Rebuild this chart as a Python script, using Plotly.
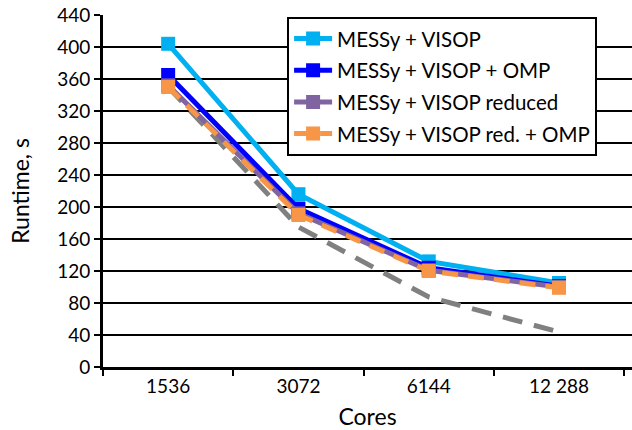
import plotly.graph_objects as go

cores = ["1536", "3072", "6144", "12 288"]
visop = [404, 216, 132, 105]
visop_omp = [365, 198, 124, 101]
visop_reduced = [352, 192, 121, 100]
visop_red_omp = [350, 190, 120, 99]
ideal = [350, 175, 87.5, 43.75]

FONT = "Lato"

fig = go.Figure()

# ideal scaling (no legend entry)
fig.add_trace(go.Scatter(
    x=cores, y=ideal, mode="lines", showlegend=False,
    line=dict(color="#808080", width=5, dash="20px,12px")
))

series = [
    ("MESSy + VISOP", visop, "#00B0F0", "solid"),
    ("MESSy + VISOP + OMP", visop_omp, "#0000FF", "solid"),
    ("MESSy + VISOP reduced", visop_reduced, "#8064A2", "solid"),
    ("MESSy + VISOP red. + OMP", visop_red_omp, "#F79646", "16px,10px"),
]
for name, vals, color, dash in series:
    fig.add_trace(go.Scatter(
        x=cores, y=vals, mode="lines+markers", name=name, legendgroup=name,
        line=dict(color=color, width=5, dash=dash),
        marker=dict(symbol="square", size=14, color=color)
    ))

fig.update_layout(
    width=632, height=430,
    margin=dict(l=103, r=0, t=15, b=63),
    paper_bgcolor="white", plot_bgcolor="white",
    font=dict(family=FONT, size=19, color="black"),
    legend=dict(
        x=0.348, y=0.995, xanchor="left", yanchor="top",
        bgcolor="white", bordercolor="black", borderwidth=2,
        font=dict(size=20.5), tracegroupgap=2, itemwidth=38,
    ),
    xaxis=dict(
        title=dict(text="Cores", standoff=16),
        range=[-0.5, 3.56],
        showline=True, linecolor="black", linewidth=3,
        ticks="outside", tickson="boundaries", ticklen=6, tickwidth=2, tickcolor="black",
        showgrid=False, automargin=False,
    ),
    yaxis=dict(
        title=dict(text="Runtime, s", standoff=22),
        range=[0, 440], dtick=40,
        showline=True, linecolor="black", linewidth=3,
        ticks="outside", ticklen=6, tickwidth=2, tickcolor="black",
        showgrid=True, gridcolor="black", gridwidth=2,
        zeroline=False, automargin=False,
    ),
)

# drop the default page margin so the figure fills the window
fig.write_html("out.html", config={"displayModeBar": False},
               post_script="document.body.style.margin='0';")
